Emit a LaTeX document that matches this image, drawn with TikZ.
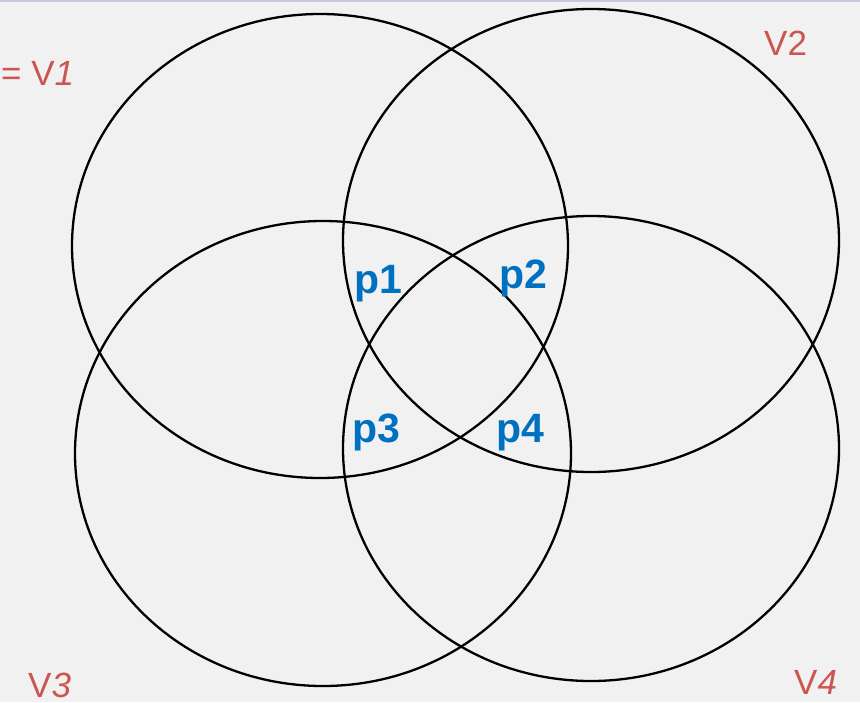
\documentclass[tikz,border=0pt]{standalone}
\usepackage{fontspec}
\setmainfont{Liberation Sans}
\usepackage{xcolor}
\definecolor{Ground}{HTML}{F1F1F1}
\definecolor{Rule}{HTML}{C8C8DA}
\definecolor{SetRed}{HTML}{CC5552}
\definecolor{PartBlue}{HTML}{0070C0}
\begin{document}
\begin{tikzpicture}[x=1pt,y=-1pt,
  setlabel/.style={anchor=base west,inner sep=0pt,font=\fontsize{35}{35}\selectfont,text=SetRed},
  partlabel/.style={anchor=base west,inner sep=0pt,font=\fontsize{41}{41}\selectfont\bfseries,text=PartBlue},
  setline/.style={line width=2.3pt,draw=black}]
\path[use as bounding box,fill=Ground] (0,0) rectangle (860,702);
\fill[Rule] (0,0) rectangle (860,1.5);
% the four sets
\draw[setline] (320,246) ellipse [x radius=248,y radius=232];
\draw[setline] (591,240.5) ellipse [x radius=248,y radius=231.5];
\draw[setline] (323,453.5) ellipse [x radius=248,y radius=232.5];
\draw[setline] (591,448.5) ellipse [x radius=248,y radius=232.5];
% set names
\node[setlabel] (v1) at (1,85) {= V\textit{1}};
\node[setlabel] (v2) at (764,55) {V2};
\node[setlabel] (v3) at (28,697) {V\textit{3}};
\node[setlabel] (v4) at (794,694) {V\textit{4}};
% parts
\node[partlabel] (p1) at (354,293) {p1};
\node[partlabel] (p2) at (499,288) {p2};
\node[partlabel] (p3) at (352,442) {p3};
\node[partlabel] (p4) at (496,442) {p4};
\end{tikzpicture}
\end{document}
